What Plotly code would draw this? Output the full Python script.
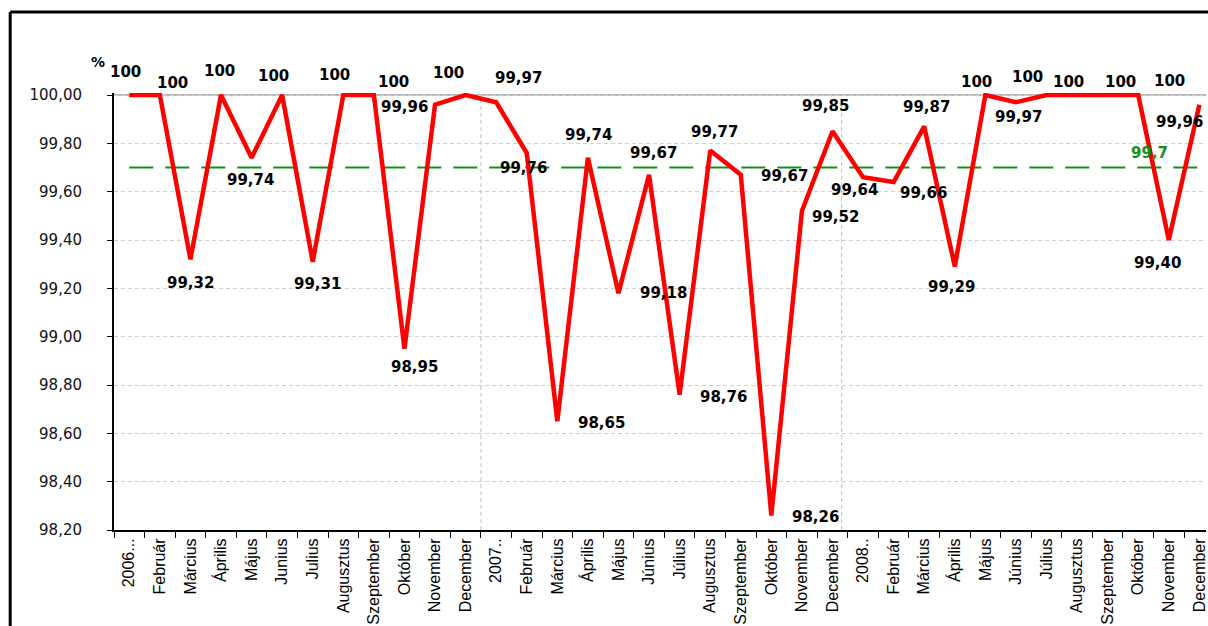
import plotly.graph_objects as go

# Monthly availability (%), January 2006 - December 2008
months_2006 = ["2006...", "Február", "Március", "Április", "Május", "Junius", "Julius",
               "Augusztus", "Szeptember", "Október", "November", "December"]
months_2007 = ["2007..", "Február", "Március", "Április", "Május", "Június", "Július",
               "Augusztus", "Szeptember", "Október", "November", "December"]
months_2008 = ["2008..", "Február", "Március", "Április", "Május", "Június", "Július",
               "Augusztus", "Szeptember", "Október", "November", "December"]
categories = months_2006 + months_2007 + months_2008

availability_2006 = [100, 100, 99.32, 100, 99.74, 100, 99.31, 100, 100, 98.95, 99.96, 100]
availability_2007 = [99.97, 99.76, 98.65, 99.74, 99.18, 99.67, 98.76, 99.77, 99.67, 98.26, 99.52, 99.85]
availability_2008 = [99.66, 99.64, 99.87, 99.29, 100, 99.97, 100, 100, 100, 100, 99.40, 99.96]
availability = availability_2006 + availability_2007 + availability_2008

target = 99.7
y_ticks = [98.2, 98.4, 98.6, 98.8, 99.0, 99.2, 99.4, 99.6, 99.8, 100.0]

# Screen offsets (px, right / down) of each value label relative to its point
label_offsets = [
    (-4, -23), (13, -12), (0, 24), (-2, -24), (-1, 22), (-9, -19), (5, 22), (-9, -20),
    (20, -13), (10, 18), (-31, 2), (-17, -22),
    (22, -24), (-3, 15), (44, 2), (1, -23), (45, 0), (4, -22), (44, 2), (4, -19),
    (44, 1), (44, 1), (34, 6), (-7, -25),
    (60, 16), (-39, 8), (2, -19), (-3, 20), (-9, -13), (3, 15), (-19, -18), (-9, -13),
    (13, -13), (31, -14), (-11, 23), (-20, 17),
]

W, H = 1208, 626
ML, MR, MT, MB = 114, 0, 93, 96
plot_w = W - ML - MR
plot_h = H - MT - MB


def px_x(px):
    return (px - ML) / plot_w


def px_y(py):
    return (H - MB - py) / plot_h


def fmt(v):
    if v == 100:
        return "100"
    return f"{v:.2f}".replace(".", ",")


x_idx = list(range(len(categories)))

fig = go.Figure()

fig.add_trace(go.Scatter(
    x=[x_idx[0], x_idx[-1]], y=[target, target], mode="lines",
    line=dict(color="#13901a", width=2, dash="24px,12px"),
    hoverinfo="skip", showlegend=False,
))

fig.add_trace(go.Scatter(
    x=x_idx, y=availability, mode="lines",
    line=dict(color="#ff0000", width=4.5),
    showlegend=False,
))

annotations = []
for i, v in enumerate(availability):
    dx, dy = label_offsets[i]
    annotations.append(dict(
        x=i, y=v, xref="x", yref="y", text=fmt(v), showarrow=False,
        xshift=dx, yshift=-dy,
        font=dict(family="DejaVu Sans", size=15, color="black", weight="bold"),
    ))

annotations.append(dict(
    x=33, y=target, xref="x", yref="y", text=f"{target}".replace(".", ","),
    showarrow=False, xshift=11, yshift=15,
    font=dict(family="DejaVu Sans", size=15, color="#13901a", weight="bold"),
))

annotations.append(dict(
    x=px_x(98), y=px_y(62), xref="paper", yref="paper", text="%", showarrow=False,
    xanchor="center", yanchor="middle",
    font=dict(family="DejaVu Sans", size=14, color="black", weight="bold"),
))

shapes = [
    # solid top gridline at 100 %
    dict(type="line", xref="paper", yref="y", x0=0, x1=1, y0=100, y1=100,
         line=dict(color="#a0a0a0", width=1.5), layer="below"),
    # year separators
    dict(type="line", xref="x", yref="y", x0=11.5, x1=11.5, y0=98.2, y1=100,
         line=dict(color="#c0c0c0", width=1, dash="4px,3px"), layer="below"),
    dict(type="line", xref="x", yref="y", x0=23.3, x1=23.3, y0=98.2, y1=100,
         line=dict(color="#c0c0c0", width=1, dash="4px,3px"), layer="below"),
    # outer chart frame
    dict(type="line", xref="paper", yref="paper", x0=px_x(10), x1=px_x(W + 5),
         y0=px_y(12), y1=px_y(12), line=dict(color="black", width=3)),
    dict(type="line", xref="paper", yref="paper", x0=px_x(10), x1=px_x(10),
         y0=px_y(12), y1=px_y(H + 5), line=dict(color="black", width=3)),
]

fig.update_layout(
    width=W, height=H,
    margin=dict(l=ML, r=MR, t=MT, b=MB),
    paper_bgcolor="white", plot_bgcolor="white",
    separators=", ",
    showlegend=False,
    annotations=annotations,
    shapes=shapes,
    xaxis=dict(
        range=[-0.5, -0.5 + plot_w / 30.63],
        tickmode="array", tickvals=x_idx, ticktext=categories,
        tickangle=-90, ticks="", ticklabeloverflow="allow",
        tickfont=dict(family="Liberation Sans, Arial", size=16, color="black"),
        showline=True, linecolor="black", linewidth=2,
        showgrid=False, zeroline=False,
        minor=dict(ticks="outside", ticklen=6, tickcolor="black", tickwidth=1,
                   tick0=-0.5, dtick=1, showgrid=False),
    ),
    yaxis=dict(
        range=[98.2, 100 + 2 / (435 / 1.8)],
        tickmode="array", tickvals=y_ticks, tickformat=".2f",
        ticks="outside", ticklen=5, tickcolor="black",
        tickfont=dict(family="DejaVu Sans", size=15, color="#111111"),
        ticklabelstandoff=22,
        showline=True, linecolor="black", linewidth=2,
        showgrid=True, gridcolor="#d0d0d0", griddash="4px,3px", gridwidth=1,
        zeroline=False,
    ),
)

fig.write_html("out.html")
